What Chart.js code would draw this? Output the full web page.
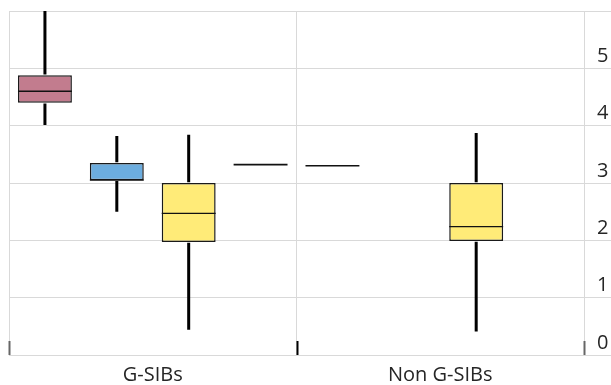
<!DOCTYPE html>
<html>
<head>
<meta charset="utf-8">
<script src="https://cdn.jsdelivr.net/npm/chart.js@4.4.1/dist/chart.umd.min.js"></script>
<style>
  html,body{margin:0;padding:0;background:#fff;}
  #wrap{width:611px;height:385px;}
</style>
</head>
<body>
<div id="wrap"><canvas id="c" width="611" height="385"></canvas></div>
<script>
// ---- data ----
const categories = ['G-SIBs', 'Non G-SIBs'];
const yTicks = [0, 1, 2, 3, 4, 5, 6];

const seriesNames = ['Series 1', 'Series 2', 'Series 3', 'Series 4'];
const seriesColors = ['#C27C8E', '#6CADDF', '#FFEB78', '#FFFFFF'];

// box-plot statistics per series, one value per category
const s1Min = [4.01, 3.30], s1Q1 = [4.40, 3.30], s1Med = [4.60, 3.30], s1Q3 = [4.88, 3.30], s1Max = [6.00, 3.30];
const s2Min = [2.50, null], s2Q1 = [3.05, null], s2Med = [3.05, null], s2Q3 = [3.35, null], s2Max = [3.82, null];
const s3Min = [0.44, 0.41], s3Q1 = [1.97, 1.99], s3Med = [2.47, 2.24], s3Q3 = [3.00, 3.00], s3Max = [3.84, 3.87];
const s4Min = [3.32, null], s4Q1 = [3.32, null], s4Med = [3.32, null], s4Q3 = [3.32, null], s4Max = [3.32, null];

const stats = [
  {min: s1Min, q1: s1Q1, med: s1Med, q3: s1Q3, max: s1Max},
  {min: s2Min, q1: s2Q1, med: s2Med, q3: s2Q3, max: s2Max},
  {min: s3Min, q1: s3Q1, med: s3Med, q3: s3Q3, max: s3Max},
  {min: s4Min, q1: s4Q1, med: s4Med, q3: s4Q3, max: s4Max}
];

const datasets = stats.map((s, k) => ({
  label: seriesNames[k],
  data: s.q1.map((v, i) => (v === null ? null : [v, s.q3[i]])),
  backgroundColor: seriesColors[k],
  borderColor: '#1a1a1a',
  borderWidth: 1.5,
  borderSkipped: false,
  barPercentage: 0.75,
  categoryPercentage: 1.0
}));

const boxPlugin = {
  id: 'boxWhiskers',
  afterDatasetsDraw(chart) {
    const ctx = chart.ctx;
    const y = chart.scales.y;
    const area = chart.chartArea;
    ctx.save();
    ctx.beginPath();
    ctx.rect(area.left, area.top, area.right - area.left, area.bottom - area.top);
    ctx.clip();
    stats.forEach((s, k) => {
      const meta = chart.getDatasetMeta(k);
      meta.data.forEach((bar, i) => {
        if (s.q1[i] === null) return;
        const x = bar.x;
        const half = bar.width / 2;
        const degenerate = s.q1[i] === s.q3[i];
        if (!degenerate) {
          ctx.strokeStyle = '#000';
          ctx.lineWidth = 3;
          ctx.beginPath();
          ctx.moveTo(x, y.getPixelForValue(s.max[i]));
          ctx.lineTo(x, y.getPixelForValue(s.q3[i]) - 0.75);
          ctx.moveTo(x, y.getPixelForValue(s.q1[i]) + 0.75);
          ctx.lineTo(x, y.getPixelForValue(s.min[i]));
          ctx.stroke();
        }
        ctx.strokeStyle = '#111';
        ctx.lineWidth = degenerate ? 1.6 : 1.3;
        const my = y.getPixelForValue(s.med[i]);
        ctx.beginPath();
        ctx.moveTo(x - half, my);
        ctx.lineTo(x + half, my);
        ctx.stroke();
      });
    });
    ctx.restore();
    // inward category tick marks on the bottom axis
    const xs = chart.scales.x;
    const bounds = [xs.left];
    for (let i = 0; i < categories.length - 1; i++) {
      bounds.push((xs.getPixelForValue(i) + xs.getPixelForValue(i + 1)) / 2);
    }
    bounds.push(xs.right);
    ctx.save();
    bounds.forEach((bx, j) => {
      ctx.strokeStyle = (j === 0 || j === bounds.length - 1) ? '#666' : '#000';
      ctx.lineWidth = 2;
      ctx.beginPath();
      ctx.moveTo(Math.round(bx) + 0.5, area.bottom - 14);
      ctx.lineTo(Math.round(bx) + 0.5, area.bottom);
      ctx.stroke();
    });
    ctx.restore();
  }
};

new Chart(document.getElementById('c'), {
  type: 'bar',
  data: { labels: categories, datasets },
  options: {
    responsive: false,
    animation: false,
    layout: { padding: { left: 9, top: 11, right: 0, bottom: 0 } },
    plugins: { legend: { display: false }, tooltip: { enabled: false }, title: { display: false } },
    scales: {
      x: {
        grid: { offset: true, color: '#d9d9d9', lineWidth: 1, drawTicks: false },
        border: { color: '#d9d9d9', width: 1 },
        ticks: { color: '#262626', font: { family: 'Open Sans', size: 20 }, padding: 8, maxRotation: 0 },
        afterFit(scale) { scale.height = 30; scale.paddingLeft = 0; scale.paddingRight = 0; }
      },
      y: {
        position: 'right',
        min: 0, max: 6,
        afterBuildTicks(scale) { scale.ticks = yTicks.map(v => ({ value: v })); },
        grid: { color: '#d9d9d9', lineWidth: 1, drawTicks: true, tickLength: 27 },
        border: { color: '#d9d9d9', width: 1 },
        ticks: {
          color: '#262626',
          font: { family: 'Open Sans', size: 20 },
          padding: -14,
          labelOffset: -12,
          callback: (v) => (v === 6 ? '' : String(v))
        },
        afterFit(scale) { scale.width = 27; scale.paddingTop = 0; scale.paddingBottom = 0; }
      }
    }
  },
  plugins: [boxPlugin]
});
</script>
</body>
</html>
